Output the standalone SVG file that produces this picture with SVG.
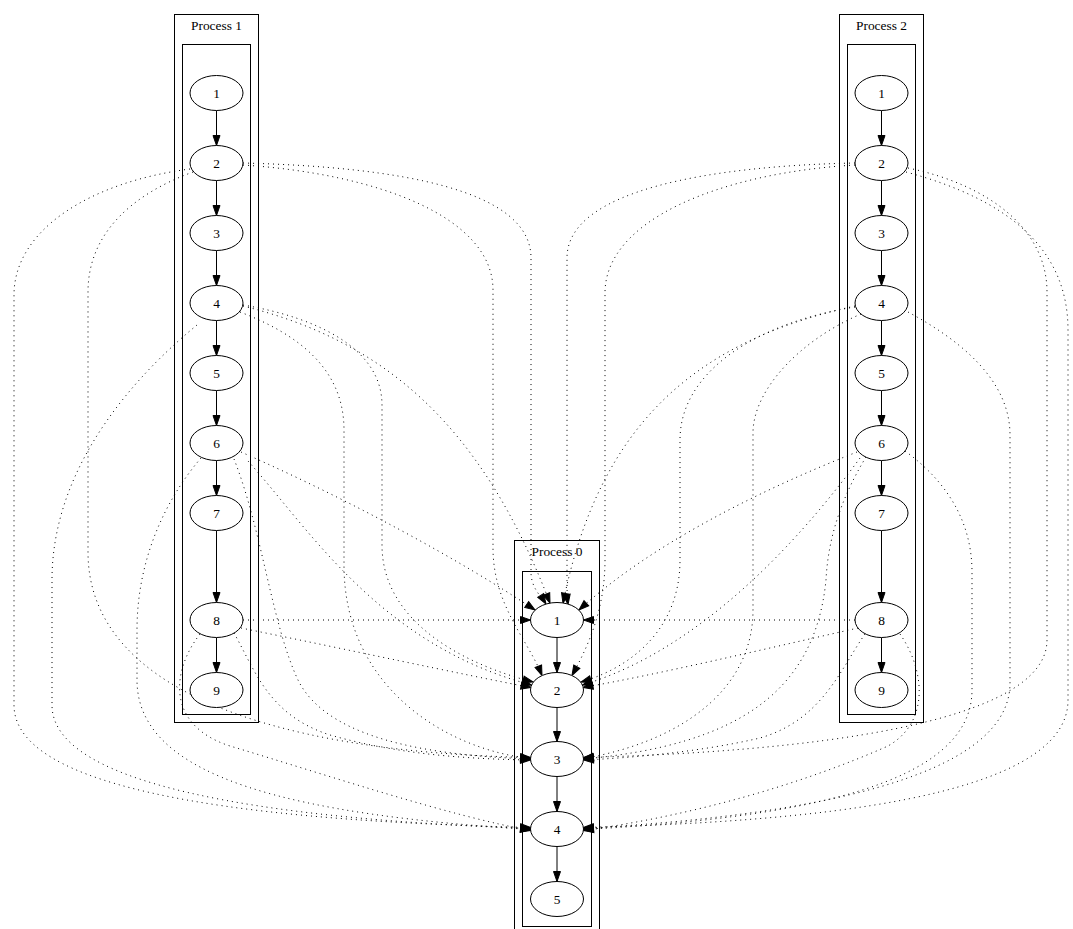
<svg xmlns="http://www.w3.org/2000/svg" width="1073" height="929" viewBox="0 0 1073 929">
<style>
.c{fill:none;stroke:#000;stroke-width:1}
.n ellipse{fill:#fff;stroke:#000;stroke-width:1}
text{font-family:"Liberation Serif","Times New Roman",serif;font-size:13.4px;text-anchor:middle;fill:#000}
.s{fill:none;stroke:#000;stroke-width:1;marker-end:url(#ah)}
.d{fill:none;stroke:#000;stroke-width:1;stroke-dasharray:1,4;marker-end:url(#ah)}
</style>
<defs>
<marker id="ah" markerUnits="userSpaceOnUse" markerWidth="12" markerHeight="9" refX="10" refY="3.5" orient="auto" overflow="visible"><path d="M0,0L10,3.5L0,7z" fill="#000" stroke="#000" stroke-width="1"/></marker>
</defs>
<rect x="0" y="0" width="1073" height="929" fill="#fff"/>
<g id="cluster_p1"><rect class="c" x="174.5" y="14.5" width="84" height="708"/><text x="216.5" y="30">Process 1</text><rect class="c" x="182.5" y="44.5" width="68" height="670"/></g>
<g id="cluster_p2"><rect class="c" x="839.5" y="14.5" width="84" height="708"/><text x="881.5" y="30">Process 2</text><rect class="c" x="847.5" y="44.5" width="68" height="670"/></g>
<g id="cluster_p0"><rect class="c" x="514.5" y="540.5" width="85" height="400"/><text x="557" y="556">Process 0</text><rect class="c" x="522.5" y="571.5" width="69" height="355"/></g>
<g id="edges">
<path class="s" d="M216.5,110.5L216.5,145.5"/>
<path class="s" d="M216.5,180.5L216.5,215.5"/>
<path class="s" d="M216.5,250.5L216.5,285.5"/>
<path class="s" d="M216.5,320.5L216.5,355.5"/>
<path class="s" d="M216.5,390.5L216.5,425.5"/>
<path class="s" d="M216.5,460.5L216.5,495.5"/>
<path class="s" d="M216.5,530.5L216.5,602.5"/>
<path class="s" d="M216.5,637.5L216.5,672.5"/>
<path class="s" d="M881.5,110.5L881.5,145.5"/>
<path class="s" d="M881.5,180.5L881.5,215.5"/>
<path class="s" d="M881.5,250.5L881.5,285.5"/>
<path class="s" d="M881.5,320.5L881.5,355.5"/>
<path class="s" d="M881.5,390.5L881.5,425.5"/>
<path class="s" d="M881.5,460.5L881.5,495.5"/>
<path class="s" d="M881.5,530.5L881.5,602.5"/>
<path class="s" d="M881.5,637.5L881.5,672.5"/>
<path class="s" d="M557,637.5L557,672.5"/>
<path class="s" d="M557,707.5L557,741.5"/>
<path class="s" d="M557,776.5L557,811.5"/>
<path class="s" d="M557,846.5L557,881.5"/>
<path class="d" d="M243,163 C400,167 531,190 531,258 L531,572 C531,588 541,596 546,604"/>
<path class="d" d="M243,165 C380,174 493,218 493,290 L493,548 C493,605 528,640 542,675.5"/>
<path class="d" d="M193,172 C130,195 88,235 88,292 L88,552 C88,685 260,752 530.6,757.5"/>
<path class="d" d="M190,169 C90,182 14,230 14,295 L14,705 C14,800 300,822 530.6,827.5"/>
<path class="d" d="M243,306 C380,340 480,420 550,603.2"/>
<path class="d" d="M243,305 C320,318 382,350 382,405 L382,545 C382,625 470,666 533,682"/>
<path class="d" d="M240,312 C300,335 344,370 344,430 L344,565 C344,690 450,750 530.6,758.5"/>
<path class="d" d="M197,325 C130,380 52,470 52,580 L52,705 C52,800 350,822 530.5,828.5"/>
<path class="d" d="M241,452 C350,500 460,560 535,610"/>
<path class="d" d="M248,461 C310,530 380,645 531.6,685"/>
<path class="d" d="M234,459 C262,530 272,625 298,680 C330,745 450,756 530.5,759"/>
<path class="d" d="M201,458 C165,500 137,560 137,630 L137,680 C137,780 300,815 530.5,829.5"/>
<path class="d" d="M243,620 L530.5,620"/>
<path class="d" d="M241,628 C350,650 460,674 531,687.5"/>
<path class="d" d="M234,633 C255,670 268,715 330,735 C400,755 470,759 530.5,760"/>
<path class="d" d="M200,634 C172,670 165,725 230,746 C330,776 450,816 530.6,830.5"/>
<path class="d" d="M855,163 C710,166 567,190 567,258 L567,574 C567,589 567,597 568,604.5"/>
<path class="d" d="M855,165 C720,173 605,220 605,293 L605,560 C605,612 586,650 572,675.5"/>
<path class="d" d="M908,168 C990,185 1047,230 1047,292 L1047,640 C1047,725 800,752 583.4,757.5"/>
<path class="d" d="M906,172 C1010,200 1068,250 1068,330 L1068,700 C1068,800 800,822 583.4,827.5"/>
<path class="d" d="M855,306 C700,340 600,420 563,603.2"/>
<path class="d" d="M855,307 C760,322 680,370 680,440 L680,560 C680,630 630,668 581,682"/>
<path class="d" d="M861,314 C800,340 753,390 753,433 L753,610 C753,690 680,742 583.4,758.5"/>
<path class="d" d="M908,312 C960,340 1010,380 1010,435 L1010,683 C1010,780 800,816 583.5,828.5"/>
<path class="d" d="M857,452 C760,490 650,545 579,610"/>
<path class="d" d="M860,458 C800,540 700,650 582.4,685"/>
<path class="d" d="M866,457 C840,500 828,540 826,580 C815,690 740,745 583.5,759"/>
<path class="d" d="M905,451 C945,480 972,520 972,572 L972,690 C972,785 800,818 583.5,829.5"/>
<path class="d" d="M855,620 L583.5,620"/>
<path class="d" d="M858,628 C760,650 660,674 583,687.5"/>
<path class="d" d="M865,634 C840,670 822,720 760,738 C700,752 630,758 583.5,760"/>
<path class="d" d="M900,634 C925,670 930,722 888,746 C800,785 690,816 583.4,830.5"/>
</g>
<g id="p1n1" class="n"><ellipse cx="216.5" cy="93" rx="26.5" ry="17.5"/><text x="216.5" y="97.5">1</text></g>
<g id="p1n2" class="n"><ellipse cx="216.5" cy="163" rx="26.5" ry="17.5"/><text x="216.5" y="167.5">2</text></g>
<g id="p1n3" class="n"><ellipse cx="216.5" cy="233" rx="26.5" ry="17.5"/><text x="216.5" y="237.5">3</text></g>
<g id="p1n4" class="n"><ellipse cx="216.5" cy="303" rx="26.5" ry="17.5"/><text x="216.5" y="307.5">4</text></g>
<g id="p1n5" class="n"><ellipse cx="216.5" cy="373" rx="26.5" ry="17.5"/><text x="216.5" y="377.5">5</text></g>
<g id="p1n6" class="n"><ellipse cx="216.5" cy="443" rx="26.5" ry="17.5"/><text x="216.5" y="447.5">6</text></g>
<g id="p1n7" class="n"><ellipse cx="216.5" cy="513" rx="26.5" ry="17.5"/><text x="216.5" y="517.5">7</text></g>
<g id="p1n8" class="n"><ellipse cx="216.5" cy="620" rx="26.5" ry="17.5"/><text x="216.5" y="624.5">8</text></g>
<g id="p1n9" class="n"><ellipse cx="216.5" cy="690" rx="26.5" ry="17.5"/><text x="216.5" y="694.5">9</text></g>
<g id="p2n1" class="n"><ellipse cx="881.5" cy="93" rx="26.5" ry="17.5"/><text x="881.5" y="97.5">1</text></g>
<g id="p2n2" class="n"><ellipse cx="881.5" cy="163" rx="26.5" ry="17.5"/><text x="881.5" y="167.5">2</text></g>
<g id="p2n3" class="n"><ellipse cx="881.5" cy="233" rx="26.5" ry="17.5"/><text x="881.5" y="237.5">3</text></g>
<g id="p2n4" class="n"><ellipse cx="881.5" cy="303" rx="26.5" ry="17.5"/><text x="881.5" y="307.5">4</text></g>
<g id="p2n5" class="n"><ellipse cx="881.5" cy="373" rx="26.5" ry="17.5"/><text x="881.5" y="377.5">5</text></g>
<g id="p2n6" class="n"><ellipse cx="881.5" cy="443" rx="26.5" ry="17.5"/><text x="881.5" y="447.5">6</text></g>
<g id="p2n7" class="n"><ellipse cx="881.5" cy="513" rx="26.5" ry="17.5"/><text x="881.5" y="517.5">7</text></g>
<g id="p2n8" class="n"><ellipse cx="881.5" cy="620" rx="26.5" ry="17.5"/><text x="881.5" y="624.5">8</text></g>
<g id="p2n9" class="n"><ellipse cx="881.5" cy="690" rx="26.5" ry="17.5"/><text x="881.5" y="694.5">9</text></g>
<g id="p0n1" class="n"><ellipse cx="557" cy="620" rx="26.5" ry="17.5"/><text x="557" y="624.5">1</text></g>
<g id="p0n2" class="n"><ellipse cx="557" cy="690" rx="26.5" ry="17.5"/><text x="557" y="694.5">2</text></g>
<g id="p0n3" class="n"><ellipse cx="557" cy="759" rx="26.5" ry="17.5"/><text x="557" y="763.5">3</text></g>
<g id="p0n4" class="n"><ellipse cx="557" cy="829" rx="26.5" ry="17.5"/><text x="557" y="833.5">4</text></g>
<g id="p0n5" class="n"><ellipse cx="557" cy="899" rx="26.5" ry="17.5"/><text x="557" y="903.5">5</text></g>
</svg>
